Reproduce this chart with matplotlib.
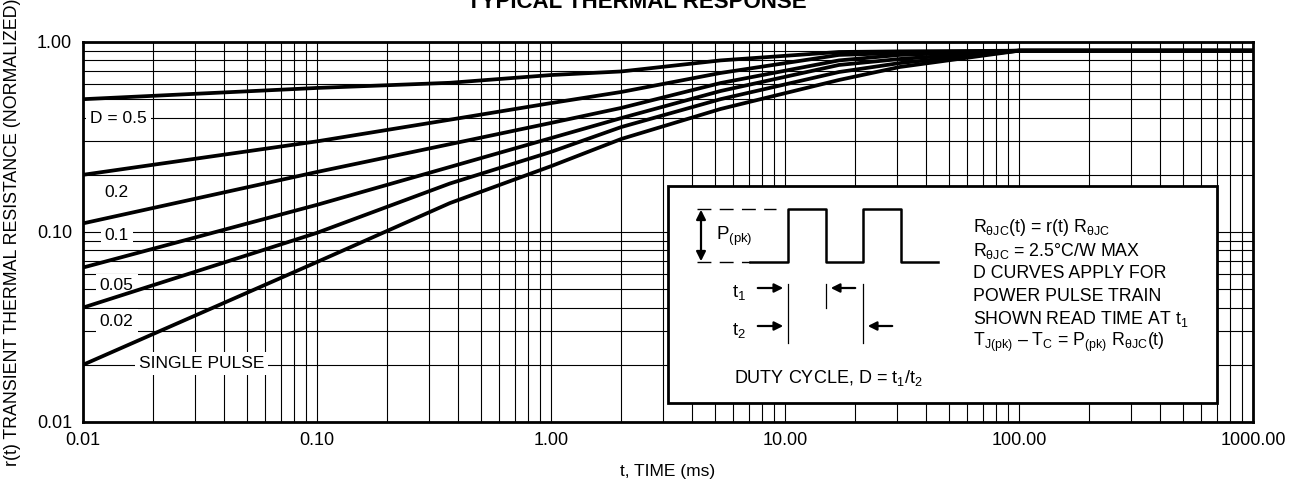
import matplotlib
matplotlib.use("Agg")
import matplotlib.pyplot as plt
from matplotlib.patches import Rectangle
from matplotlib.ticker import NullFormatter

FONT = ["Liberation Sans Narrow", "Liberation Sans", "DejaVu Sans"]
plt.rcParams["font.family"] = FONT
plt.rcParams["mathtext.fontset"] = "custom"
plt.rcParams["mathtext.rm"] = "Liberation Sans"
plt.rcParams["mathtext.it"] = "Liberation Sans"

# pulse time (ms) and normalized r(t)
t_ms = [0.01, 0.1, 0.37, 1.0, 2.0, 5.3, 17, 31, 100, 1000]
r_d05 = [0.50, 0.573, 0.61, 0.67, 0.70, 0.80, 0.886, 0.893, 0.90, 0.90]
r_d02 = [0.20, 0.30, 0.39, 0.477, 0.546, 0.687, 0.855, 0.875, 0.90, 0.90]
r_d01 = [0.111, 0.207, 0.29, 0.375, 0.45, 0.608, 0.80, 0.855, 0.90, 0.90]
r_d005 = [0.065, 0.139, 0.22, 0.312, 0.398, 0.552, 0.757, 0.814, 0.90, 0.90]
r_d002 = [0.040, 0.099, 0.18, 0.264, 0.357, 0.50, 0.695, 0.775, 0.90, 0.90]
r_single = [0.020, 0.0695, 0.142, 0.222, 0.309, 0.444, 0.631, 0.739, 0.90, 0.90]

curves = [r_d05, r_d02, r_d01, r_d005, r_d002, r_single]
curve_labels = ["D = 0.5", "0.2", "0.1", "0.05", "0.02", "SINGLE PULSE"]
label_t = [0.0107, 0.0124, 0.0124, 0.0118, 0.0118, 0.0173]
label_r = [0.398, 0.162, 0.096, 0.0525, 0.034, 0.0203]

x_ticks = [0.01, 0.1, 1, 10, 100, 1000]
x_ticklabels = ["0.01", "0.10", "1.00", "10.00", "100.00", "1000.00"]
y_ticks = [0.01, 0.1, 1]
y_ticklabels = ["0.01", "0.10", "1.00"]

W, H = 1297, 483
fig = plt.figure(figsize=(W / 100, H / 100), dpi=100)
ax = fig.add_axes([83 / W, 1 - 422 / H, 1170 / W, 380 / H])

for r in curves:
    ax.plot(t_ms, r, color="black", lw=2.7, zorder=4, solid_capstyle="butt")

ax.set_xscale("log")
ax.set_yscale("log")
ax.set_xlim(0.01, 1000)
ax.set_ylim(0.01, 1)
ax.set_xticks(x_ticks, x_ticklabels)
ax.set_yticks(y_ticks, y_ticklabels)
ax.xaxis.set_minor_formatter(NullFormatter())
ax.yaxis.set_minor_formatter(NullFormatter())
ax.tick_params(which="both", length=0, labelsize=13)
ax.tick_params(axis="x", pad=7)
ax.tick_params(axis="y", pad=8)
ax.grid(which="both", color="black", lw=0.8)
for s in ax.spines.values():
    s.set_linewidth(2)
    s.set_zorder(5)

for txt, tx, ry in zip(curve_labels, label_t, label_r):
    ax.text(tx, ry, txt, fontsize=12.5, ha="left", va="center", zorder=3,
            bbox=dict(facecolor="white", edgecolor="none", pad=3))

ax.set_xlabel("t, TIME (ms)", fontsize=12.5, labelpad=11)
ax.set_ylabel("r(t) TRANSIENT THERMAL RESISTANCE (NORMALIZED)", fontsize=12.8)
ax.yaxis.set_label_coords(-0.053, 0.5)

fig.text(637 / W, 1 - 8 / H, "TYPICAL THERMAL RESPONSE", fontsize=16,
         fontweight="bold", ha="center", va="baseline", family=["Liberation Sans"])

# inset box with the duty cycle sketch, in pixel coordinates
ov = fig.add_axes([0, 0, 1, 1], zorder=10)
ov.set_xlim(0, W)
ov.set_ylim(H, 0)
ov.axis("off")
ov.add_patch(Rectangle((668, 186), 549, 217, facecolor="white", edgecolor="black", lw=2))

pulse_x = [750, 788, 788, 826, 826, 863, 863, 901, 901, 938]
pulse_y = [262, 262, 209, 209, 262, 262, 209, 209, 262, 262]
ov.plot(pulse_x, pulse_y, color="black", lw=1.8)
ov.plot([697, 776], [209, 209], color="black", lw=1, dashes=(10, 6))
ov.plot([697, 750], [262, 262], color="black", lw=1, dashes=(10, 6))
ov.annotate("", xy=(701, 207), xytext=(701, 264),
            arrowprops=dict(arrowstyle="<|-|>", color="black", lw=1.6, mutation_scale=14))
ov.text(716, 236, r"P$_{\mathrm{(pk)}}$", fontsize=13.5, ha="left", va="center")

for xv, y0, y1 in [(788, 284, 343), (826, 284, 308), (863, 284, 343)]:
    ov.plot([xv, xv], [y0, y1], color="black", lw=0.9)
arrow = dict(arrowstyle="-|>", color="black", lw=1.6, mutation_scale=13)
ov.annotate("", xy=(786, 288), xytext=(755, 288), arrowprops=arrow)
ov.annotate("", xy=(828, 288), xytext=(858, 288), arrowprops=arrow)
ov.annotate("", xy=(786, 326), xytext=(755, 326), arrowprops=arrow)
ov.annotate("", xy=(865, 326), xytext=(895, 326), arrowprops=arrow)
ov.text(732, 292, r"t$_1$", fontsize=13.5, ha="left", va="center")
ov.text(732, 330, r"t$_2$", fontsize=13.5, ha="left", va="center")
ov.text(828, 378, r"DUTY CYCLE, D = t$_1$/t$_2$", fontsize=13, ha="center", va="center")

notes = [r"R$_{\mathrm{θJC}}$(t) = r(t) R$_{\mathrm{θJC}}$",
         r"R$_{\mathrm{θJC}}$ = 2.5°C/W MAX",
         "D CURVES APPLY FOR",
         "POWER PULSE TRAIN",
         r"SHOWN READ TIME AT t$_1$",
         r"T$_{\mathrm{J(pk)}}$ – T$_{\mathrm{C}}$ = P$_{\mathrm{(pk)}}$ R$_{\mathrm{θJC}}$(t)"]
for i, line in enumerate(notes):
    ov.text(973, 228 + i * 22.8, line, fontsize=12.8, ha="left", va="center")

fig.savefig("out.png", dpi=100)
